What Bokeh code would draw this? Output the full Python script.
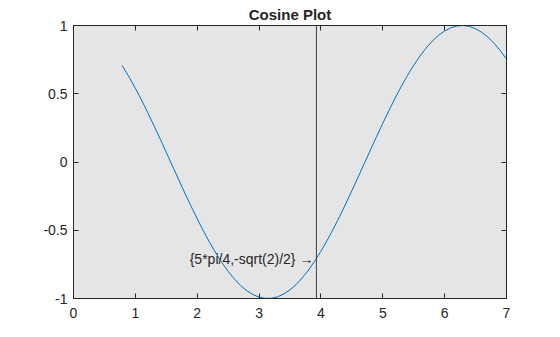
from bokeh.plotting import figure
from bokeh.models import LinearAxis, FixedTicker, Span, Label, Range1d
from bokeh.embed import file_html
from bokeh.resources import INLINE

x_vals = [0.785, 0.8, 0.9, 1.0, 1.1, 1.2, 1.3, 1.4, 1.5, 1.6, 1.7, 1.8, 1.9, 2.0,
          2.1, 2.2, 2.3, 2.4, 2.5, 2.6, 2.7, 2.8, 2.9, 3.0, 3.1, 3.2, 3.3, 3.4,
          3.5, 3.6, 3.7, 3.8, 3.9, 4.0, 4.1, 4.2, 4.3, 4.4, 4.5, 4.6, 4.7, 4.8,
          4.9, 5.0, 5.1, 5.2, 5.3, 5.4, 5.5, 5.6, 5.7, 5.8, 5.9, 6.0, 6.1, 6.2,
          6.3, 6.4, 6.5, 6.6, 6.7, 6.8, 6.9, 7.0]
y_vals = [0.7074, 0.6967, 0.6216, 0.5403, 0.4536, 0.3624, 0.2675, 0.1700, 0.0707,
          -0.0292, -0.1288, -0.2272, -0.3233, -0.4161, -0.5048, -0.5885, -0.6663,
          -0.7374, -0.8011, -0.8569, -0.9041, -0.9422, -0.9710, -0.9900, -0.9991,
          -0.9983, -0.9875, -0.9668, -0.9365, -0.8968, -0.8481, -0.7910, -0.7259,
          -0.6536, -0.5748, -0.4903, -0.4008, -0.3073, -0.2108, -0.1122, -0.0124,
          0.0875, 0.1865, 0.2837, 0.3780, 0.4685, 0.5544, 0.6347, 0.7087, 0.7756,
          0.8347, 0.8855, 0.9275, 0.9602, 0.9833, 0.9965, 0.9999, 0.9932, 0.9766,
          0.9502, 0.9144, 0.8694, 0.8157, 0.7539]

x_ticks = [0, 1, 2, 3, 4, 5, 6, 7]
x_tick_labels = ["0", "1", "2", "3", "4", "5", "6", "7"]
y_ticks = [-1, -0.5, 0, 0.5, 1]
y_tick_labels = ["-1", "-0.5", "0", "0.5", "1"]

mark_x = 3.927
mark_y = -0.7071
mark_text = "{5*pi/4,-sqrt(2)/2} \u2192"
title_text = "Cosine Plot"

FONT = "Liberation Sans"
DARK = "#262626"

p = figure(width=560, height=337, output_backend="svg", toolbar_location=None,
           x_range=Range1d(0, 7), y_range=Range1d(-1, 1),
           min_border_left=73, min_border_right=54, min_border_top=25,
           min_border_bottom=39, x_axis_location=None, y_axis_location=None)
p.background_fill_color = "#e5e5e5"
p.border_fill_color = "white"
p.outline_line_color = DARK
p.outline_line_width = 1
p.grid.visible = False

p.title.text = title_text
p.title.align = "center"
p.title.text_font = FONT
p.title.text_font_size = "15px"
p.title.text_font_style = "bold"
p.title.text_color = DARK
p.title.standoff = 6

def make_axis(ticks, labels, show_labels, standoff):
    ax = LinearAxis(ticker=FixedTicker(ticks=ticks))
    ax.major_label_overrides = {t: l for t, l in zip(ticks, labels)}
    ax.major_tick_in = 5
    ax.major_tick_out = 0
    ax.minor_tick_line_color = None
    ax.axis_line_color = DARK
    ax.major_tick_line_color = DARK
    ax.major_label_text_font = FONT
    ax.major_label_text_font_size = "14px"
    ax.major_label_text_color = DARK
    ax.major_label_standoff = standoff
    if not show_labels:
        ax.major_label_text_alpha = 0
        ax.major_label_text_font_size = "1px"
        ax.major_label_standoff = 0
    return ax

p.add_layout(make_axis(x_ticks, x_tick_labels, True, 9), "below")
p.add_layout(make_axis(y_ticks, y_tick_labels, True, 6), "left")
p.add_layout(make_axis(x_ticks, x_tick_labels, False, 0), "above")
p.add_layout(make_axis(y_ticks, y_tick_labels, False, 0), "right")

p.line(x_vals, y_vals, line_color="#0072BD", line_width=1)

p.add_layout(Span(location=mark_x, dimension="height", line_color="#404040",
                  line_width=1))
p.add_layout(Label(x=mark_x, y=mark_y, text=mark_text, text_align="right",
                   text_baseline="middle", x_offset=-3, text_font=FONT,
                   text_font_size="14px", text_color=DARK))

open("out.html", "w").write(file_html(p, INLINE))
